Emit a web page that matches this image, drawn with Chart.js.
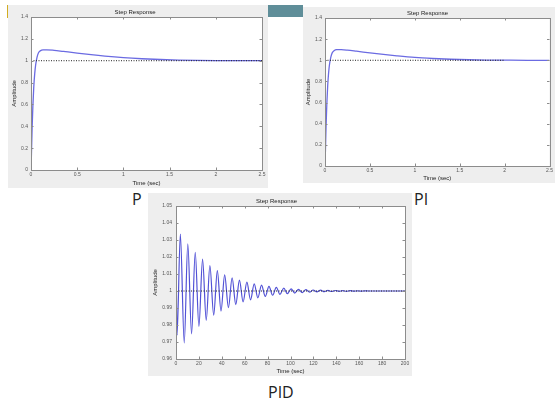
<!DOCTYPE html>
<html><head><meta charset="utf-8">
<script src="https://cdn.jsdelivr.net/npm/chart.js@4/dist/chart.umd.min.js"></script>
<style>
html,body{margin:0;padding:0;background:#fff;width:555px;height:403px;overflow:hidden;position:relative;font-family:'Open Sans','Noto Sans',sans-serif;}
canvas{position:absolute;background:#eeeeee;}
.lbl{position:absolute;font-size:16px;color:#222;line-height:16px;}
</style></head><body>
<div style="position:absolute;left:7px;top:5px;width:2px;height:13px;background:#d2ad22"></div>
<div style="position:absolute;left:268px;top:5px;width:35px;height:12px;background:#5f8e99"></div>
<canvas id="cP" width="260" height="183" style="left:8px;top:5px"></canvas>
<canvas id="cPI" width="252" height="176" style="left:303px;top:7px"></canvas>
<canvas id="cPID" width="264" height="183" style="left:148px;top:193px"></canvas>
<div class="lbl" style="left:132px;top:191px">P</div>
<div class="lbl" style="left:414px;top:191px">PI</div>
<div class="lbl" style="left:268px;top:384px">PID</div>
<script>
// ---- data ----
const chartTitle = 'Step Response';
const xTitle = 'Time (sec)';
const yTitle = 'Amplitude';

const pTime = [0, 0.005, 0.012, 0.02, 0.03, 0.04, 0.05, 0.065, 0.08, 0.1, 0.13, 0.17, 0.25, 0.35, 0.5, 0.65, 0.8, 1.0, 1.2, 1.4, 1.6, 1.8, 2.0, 2.25, 2.5];
const pAmp  = [0, 0.15, 0.38, 0.58, 0.76, 0.88, 0.96, 1.03, 1.07, 1.09, 1.10, 1.10, 1.095, 1.085, 1.07, 1.055, 1.042, 1.028, 1.018, 1.011, 1.006, 1.003, 1.001, 1.0, 1.0];
const pRefTime = [0, 2.5];
const pRefAmp  = [1, 1];

const piTime = [0, 0.005, 0.012, 0.02, 0.03, 0.04, 0.05, 0.065, 0.08, 0.1, 0.13, 0.18, 0.25, 0.35, 0.5, 0.65, 0.8, 1.0, 1.2, 1.4, 1.6, 1.8, 2.0, 2.25, 2.5];
const piAmp  = [0, 0.15, 0.38, 0.58, 0.76, 0.88, 0.96, 1.03, 1.07, 1.09, 1.10, 1.10, 1.096, 1.086, 1.07, 1.055, 1.042, 1.027, 1.017, 1.010, 1.005, 1.002, 1.001, 1.0, 1.0];
const piRefTime = [0, 2.0];
const piRefAmp  = [1, 1];

const pidTime = [0, 0.9, 3.8, 7.2, 10.3, 13.6, 16.8, 20.0, 23.2, 26.4, 29.6, 32.9, 36.1, 39.3, 42.5, 45.8, 49.0, 52.2, 55.4, 58.6, 61.9, 65.1, 68.3, 71.5, 74.7, 78.0, 81.2, 84.4, 87.6, 90.8, 94.1, 97.3, 100.5, 103.7, 107.0, 110.2, 113.4, 116.6, 119.8, 123.1, 126.3, 129.5, 132.7, 135.9, 139.2, 142.4, 145.6, 148.8, 152.0, 155.3, 158.5, 161.7, 164.9, 168.2, 180, 200];
const pidAmp  = [1.025, 0.974, 1.0335, 0.9695, 1.0278, 0.9748, 1.0228, 0.9792, 1.0188, 0.9828, 1.0150, 0.9858, 1.0120, 0.9882, 1.0095, 0.9902, 1.0078, 0.9920, 1.0064, 0.9936, 1.0052, 0.9948, 1.0042, 0.9960, 1.0034, 0.9968, 1.0027, 0.9975, 1.0021, 0.9980, 1.0017, 0.9984, 1.0013, 0.9988, 1.0010, 0.9991, 1.0008, 0.9993, 1.0006, 0.9995, 1.0005, 0.9996, 1.0004, 0.9997, 1.0003, 0.9998, 1.0002, 0.9998, 1.0002, 0.9999, 1.0001, 0.9999, 1.0001, 1.0, 1.0, 1.0];
const pidRefTime = [0, 200];
const pidRefAmp  = [1, 1];

// ---- helpers ----
const zip = (xs, ys) => xs.map((x, i) => ({x, y: ys[i]}));
const fmt = v => String(Number(v.toFixed(3)));

const boxPlugin = {
  id: 'box',
  beforeDraw(chart) {
    const {ctx, chartArea: a} = chart;
    ctx.save();
    ctx.fillStyle = '#ffffff';
    ctx.fillRect(a.left, a.top, a.right - a.left, a.bottom - a.top);
    ctx.restore();
  },
  afterDraw(chart) {
    const {ctx, chartArea: a, scales} = chart;
    ctx.save();
    ctx.strokeStyle = '#8c8c8c';
    ctx.lineWidth = 1;
    ctx.beginPath();
    const tl = 2.5;
    scales.x.ticks.forEach(t => {
      const px = Math.round(scales.x.getPixelForValue(t.value)) + 0.5;
      ctx.moveTo(px, a.bottom); ctx.lineTo(px, a.bottom - tl);
      ctx.moveTo(px, a.top); ctx.lineTo(px, a.top + tl);
    });
    scales.y.ticks.forEach(t => {
      const py = Math.round(scales.y.getPixelForValue(t.value)) + 0.5;
      ctx.moveTo(a.left, py); ctx.lineTo(a.left + tl, py);
      ctx.moveTo(a.right, py); ctx.lineTo(a.right - tl, py);
    });
    ctx.stroke();
    ctx.strokeRect(Math.round(a.left) + 0.5, Math.round(a.top) + 0.5, Math.round(a.right - a.left), Math.round(a.bottom - a.top));
    ctx.restore();
  }
};

function makeChart(id, cfg) {
  const tickFont = {family: "'Liberation Sans', Arial, sans-serif", size: 5};
  const labFont = {family: "'Liberation Sans', Arial, sans-serif", size: 6, weight: 'normal'};
  return new Chart(document.getElementById(id), {
    type: 'line',
    data: {
      datasets: [
        {data: zip(cfg.refX, cfg.refY), borderColor: '#222', borderWidth: 1, borderDash: [1, 1.5], pointRadius: 0, tension: 0},
        {data: zip(cfg.x, cfg.y), borderColor: cfg.color, borderWidth: cfg.lw, pointRadius: 0, cubicInterpolationMode: 'monotone'}
      ]
    },
    options: {
      responsive: false, animation: false, devicePixelRatio: 1,
      layout: {padding: {left: 0, top: 0, right: cfg.padR, bottom: 0}},
      plugins: {
        legend: {display: false}, tooltip: {enabled: false},
        title: {display: true, text: chartTitle, color: '#222', font: labFont, padding: {top: cfg.titleTop, bottom: cfg.titleBottom}}
      },
      scales: {
        x: {
          type: 'linear', min: cfg.xmin, max: cfg.xmax,
          grid: {display: false, drawTicks: false}, border: {display: false},
          ticks: {stepSize: cfg.xstep, autoSkip: false, maxRotation: 0, font: tickFont, color: '#555', padding: cfg.xTickPad, callback: fmt},
          title: {display: true, text: xTitle, color: '#222', font: labFont, padding: {top: 0, bottom: cfg.xTitlePad}},
          afterFit(s) { s.height = cfg.xh; }
        },
        y: {
          type: 'linear', min: cfg.ymin, max: cfg.ymax,
          grid: {display: false, drawTicks: false}, border: {display: false},
          ticks: {stepSize: cfg.ystep, autoSkip: false, font: tickFont, color: '#555', padding: cfg.yTickPad, callback: fmt},
          title: {display: true, text: yTitle, color: '#222', font: labFont, padding: {top: cfg.yTitlePad, bottom: 0}},
          afterFit(s) { s.width = cfg.yw; }
        }
      }
    },
    plugins: [boxPlugin]
  });
}

makeChart('cP', {x: pTime, y: pAmp, refX: pRefTime, refY: pRefAmp, color: '#6b6be2', lw: 1.3,
  xmin: 0, xmax: 2.5, xstep: 0.5, ymin: 0, ymax: 1.4, ystep: 0.2,
  padR: 6, titleTop: 3.4, titleBottom: 1.4, xh: 18, yw: 23, xTickPad: 2, xTitlePad: 1.4, yTickPad: 3, yTitlePad: 2.4});

makeChart('cPI', {x: piTime, y: piAmp, refX: piRefTime, refY: piRefAmp, color: '#6b6be2', lw: 1.3,
  xmin: 0, xmax: 2.5, xstep: 0.5, ymin: 0, ymax: 1.4, ystep: 0.2,
  padR: 3, titleTop: 2.4, titleBottom: 1.4, xh: 17, yw: 22, xTickPad: 2, xTitlePad: 1.4, yTickPad: 3, yTitlePad: 1.4});

makeChart('cPID', {x: pidTime, y: pidAmp, refX: pidRefTime, refY: pidRefAmp, color: '#5252d6', lw: 1.2,
  xmin: 0, xmax: 200, xstep: 20, ymin: 0.96, ymax: 1.05, ystep: 0.01,
  padR: 7, titleTop: 4.4, titleBottom: 1.4, xh: 17, yw: 28, xTickPad: 2, xTitlePad: 1.4, yTickPad: 4, yTitlePad: 3.4});
</script>
</body></html>
